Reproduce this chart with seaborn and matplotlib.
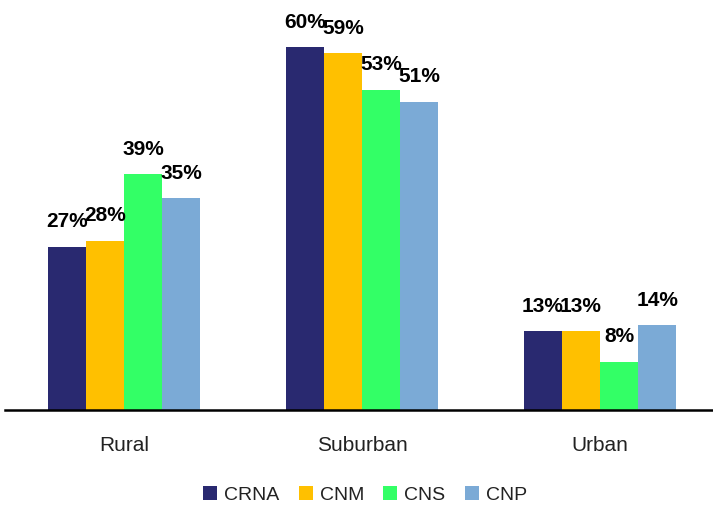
import pandas as pd
import matplotlib
matplotlib.use("Agg")
import matplotlib.pyplot as plt
import seaborn as sns

categories = ["Rural", "Suburban", "Urban"]
series = ["CRNA", "CNM", "CNS", "CNP"]
crna = [0.27, 0.60, 0.13]
cnm = [0.28, 0.59, 0.13]
cns = [0.39, 0.53, 0.08]
cnp = [0.35, 0.51, 0.14]
colors = ["#292970", "#FFC000", "#33FF66", "#7BAAD6"]

df = pd.DataFrame({
    "area": categories * 4,
    "group": [s for s in series for _ in categories],
    "share": crna + cnm + cns + cnp,
})

sns.set_theme(style="white")
plt.rcParams["font.family"] = ["Liberation Sans", "DejaVu Sans"]

fig = plt.figure(figsize=(7.13, 5.08), dpi=100)
ax = fig.add_axes([5 / 713, 0.193, 714 / 713, 405 / 508])

sns.barplot(data=df, x="area", y="share", hue="group", order=categories,
            hue_order=series, palette=colors, width=0.64, saturation=1,
            linewidth=0, ax=ax, legend=True)

for cont in ax.containers:
    ax.bar_label(cont, labels=[f"{v * 100:.0f}%" for v in cont.datavalues],
                 padding=11, fontsize=15, fontweight="bold", color="black")

ax.set_xlim(-0.5, 2.5)
ax.set_ylim(0, 0.67)
ax.set_xlabel("")
ax.set_ylabel("")
ax.set_yticks([])
for side in ["left", "right", "top"]:
    ax.spines[side].set_visible(False)
ax.spines["bottom"].set_color("black")
ax.spines["bottom"].set_linewidth(1.8)
ax.tick_params(axis="x", length=0, pad=19, labelsize=15, labelcolor="#222222")

handles, labels = ax.get_legend_handles_labels()
ax.get_legend().remove()
fig.legend(handles, labels, loc="center", bbox_to_anchor=(0.512, 0.026), ncol=4,
           frameon=False, fontsize=14, handlelength=0.72, handleheight=0.72,
           handletextpad=0.35, columnspacing=1.0, labelcolor="#222222")

fig.savefig("out.png", dpi=100)
